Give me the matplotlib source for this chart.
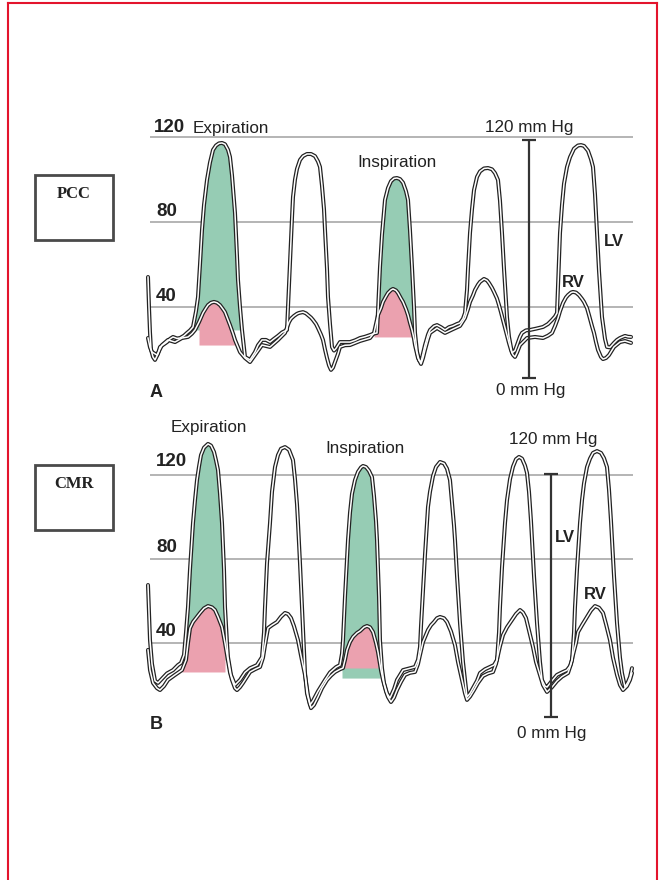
import numpy as np
import matplotlib
matplotlib.use("Agg")
import matplotlib.pyplot as plt
from matplotlib.lines import Line2D
from matplotlib.patches import Rectangle

# pressure traces (time in arbitrary units, pressure in mm Hg)
# --- panel A : PCC ---
a_lv = [(148, 54.1), (149, 40), (150, 28), (151, 20), (153, 16.5), (155, 15.1), (158, 18), (160, 21.2),
        (164, 22.5), (167, 23.5), (170, 25), (173, 25.9), (177, 25.2), (180, 25.4), (184, 26.5), (187, 27.8),
        (190, 29), (193, 30.6), (196, 38), (198, 44.7), (200, 60), (202, 76.2), (204, 88), (207, 99.8),
        (210, 108), (213, 113.9), (216, 116), (219, 117), (222, 117.2), (225, 116.6), (228, 114), (230, 110.6),
        (232, 102), (233, 96), (235, 84.2), (237, 64), (238, 52.7), (240, 40), (242, 29.2), (245, 16.5),
        (250, 15.1), (255, 18.8), (258, 22), (262, 24.5), (266, 24.5), (270, 23.5), (274, 25), (278, 26.4),
        (282, 28), (287, 29.2), (288, 40), (290, 60.7), (292, 82), (293, 91.8), (295, 100), (297, 105),
        (300, 109.2), (303, 111), (307, 112), (311, 112), (315, 111), (318, 108.5), (320, 105.9), (322, 97),
        (324, 86), (325, 76.2), (327, 58), (328, 44.7), (330, 32), (332, 21.2), (334, 19.5), (336, 20.5),
        (340, 23.5), (345, 23.5), (350, 23.5), (355, 24.3), (360, 25.4), (365, 26), (370, 26.8), (374, 27.5),
        (377, 27.8), (378, 38), (380, 58.8), (382, 74), (385, 90.4), (388, 96), (391, 99.2), (394, 100.5),
        (397, 100.7), (400, 100.2), (403, 98.5), (406, 94.5), (408, 90.4), (410, 76), (412, 58.8), (414, 40),
        (415, 27.8), (417, 19), (419, 15), (421, 14.1), (423, 18), (425, 22.1), (428, 27), (430, 29.2),
        (434, 31), (437, 31.5), (441, 30.5), (445, 29.2), (449, 30.5), (453, 31.1), (457, 32), (460, 32.5),
        (463, 34.5), (465, 37.2), (467, 48), (468, 58), (470, 74.8), (472, 86), (474, 95), (477, 101.2),
        (480, 103.8), (484, 105.2), (488, 105.4), (492, 104.8), (495, 103), (498, 99.8), (500, 90), (502, 74.8),
        (504, 58), (506, 43), (507, 35.3), (509, 26), (512, 18.4), (515, 19.5), (517, 22.1), (520, 26),
        (522, 27.8), (526, 29), (530, 29.2), (536, 29.8), (543, 30.6), (548, 32), (552, 33.9), (555, 35.5),
        (557, 37.2), (558, 50), (560, 74.8), (562, 88), (564, 98), (567, 105.9), (570, 110.5), (574, 114.5),
        (578, 116), (581, 116.2), (584, 115.8), (588, 113.5), (591, 109.5), (593, 105.9), (595, 93), (597, 74.8),
        (599, 57), (601, 42), (602, 35.3), (605, 25), (607, 21.2), (610, 21), (614, 23.1), (617, 24.5),
        (620, 25.4), (625, 26.4), (628, 26), (631, 25.9)]
a_rv = [(148, 25.4), (150, 21), (152, 18.8), (157, 17.4), (162, 22.1), (168, 24.5), (175, 23.5), (182, 25.4),
        (188, 25.9), (192, 27.5), (195, 29.2), (199, 32.9), (203, 37.2), (206, 39.5), (208, 40.9), (211, 42),
        (214, 42.4), (217, 42), (220, 40.9), (223, 39), (225, 37.6), (228, 34), (230, 31.5), (233, 27.5),
        (235, 24.5), (238, 21), (240, 18.8), (245, 16.0), (250, 14.1), (255, 17.4), (262, 22.1), (270, 21.2),
        (278, 24.5), (285, 27.8), (289, 32.9), (291, 34.5), (294, 35.8), (297, 36.8), (299, 37.2), (303, 37.6),
        (306, 37), (308, 36.2), (311, 35), (313, 33.9), (316, 32), (318, 30.1), (321, 27), (323, 24.5),
        (325, 20), (327, 16.0), (329, 12.5), (331, 10.4), (333, 11.5), (335, 14.1), (338, 18), (340, 21.2),
        (345, 22), (350, 22.1), (360, 24.0), (370, 25.4), (374, 27.8), (376, 32), (378, 36.2), (381, 39.5),
        (383, 42.4), (386, 45), (388, 46.6), (391, 48), (393, 48.5), (396, 47.8), (398, 46.6), (401, 44),
        (403, 42.4), (406, 39), (408, 36.2), (410, 32.5), (412, 29.2), (414, 25), (415, 22.1), (418, 16.0),
        (421, 13.2), (423, 16), (425, 19.8), (428, 25), (430, 27.8), (437, 30.1), (445, 27.8), (453, 29.6),
        (460, 31.1), (465, 34.8), (468, 39), (470, 42.4), (473, 45.5), (475, 48.0), (478, 50.5), (480, 51.8),
        (484, 53.2), (487, 52.5), (489, 51.3), (492, 49), (494, 47.1), (497, 44), (499, 40.9), (501, 37.5),
        (503, 33.9), (505, 30.5), (507, 26.8), (509, 23), (511, 19.8), (513, 17.5), (515, 16.5), (517, 18.5),
        (520, 22.1), (524, 24), (527, 25.4), (535, 25.9), (543, 25.4), (548, 26.5), (552, 27.8), (555, 31),
        (558, 34.8), (560, 38), (563, 41.9), (566, 44.5), (568, 45.6), (571, 46.8), (573, 47.1), (576, 46.8),
        (579, 45.6), (582, 43.8), (584, 42.4), (587, 39.5), (589, 36.2), (592, 31), (594, 27.8), (596, 23.5),
        (598, 19.8), (601, 16.5), (603, 15.5), (606, 16), (609, 17.4), (614, 21.2), (620, 23.5), (625, 24.0),
        (631, 23.1)]

# --- panel B : CMR ---
b_lv = [(148, 67.6), (149, 55), (150, 41.4), (152, 30), (155, 22), (158, 21.0), (162, 23), (167, 25.5),
        (173, 27.1), (178, 29.5), (181, 30.5), (184, 34.3), (186, 45), (188, 57.1), (190, 75), (193, 97.1),
        (195, 108), (197, 117.6), (199, 124), (201, 129.5), (204, 133), (208, 134.8), (211, 134), (214, 131),
        (216, 127), (218, 122.4), (220, 111), (222, 97.1), (224, 75), (225, 57.1), (227, 40), (228, 33.3),
        (231, 24.8), (235, 20.0), (240, 22.4), (245, 26), (250, 28), (257, 29.5), (262, 33.3), (264, 45),
        (265, 57.1), (267, 78), (270, 97.1), (272, 112), (275, 123.8), (278, 129.5), (281, 132.5), (285, 133.3),
        (289, 132), (293, 127.1), (295, 118), (297, 106), (298, 97.1), (300, 78), (302, 57.1), (304, 36),
        (305, 25.7), (307, 16), (310, 10.5), (313, 12.5), (318, 17), (325, 22.4), (330, 26), (336, 28.5),
        (340, 29.5), (342, 35), (343, 41.4), (345, 62), (348, 89.0), (350, 102), (352, 111), (355, 117.6),
        (358, 121.5), (361, 123.6), (363, 124.3), (366, 123.8), (369, 122), (372, 119.0), (374, 110), (376, 98),
        (377, 89.0), (379, 62), (380, 41.4), (382, 28), (384, 21.0), (387, 16), (390, 13.8), (394, 18),
        (397, 22.4), (403, 27.1), (410, 28), (415, 28.6), (418, 32), (420, 38.1), (421, 48), (423, 65.2),
        (425, 82), (428, 104.8), (430, 112), (433, 119.5), (436, 123.8), (440, 126.2), (444, 125.5), (447, 123),
        (450, 117.6), (452, 107), (454, 96), (455, 89.0), (457, 72), (460, 49.5), (463, 31), (465, 22.4),
        (467, 14.3), (470, 16), (473, 18.6), (477, 22), (480, 25.7), (485, 27.5), (490, 28.6), (494, 29.5),
        (497, 31.9), (499, 45), (500, 57.1), (502, 76), (505, 97.1), (507, 108), (510, 118), (513, 124),
        (516, 127.5), (519, 128.6), (522, 127.8), (525, 124.5), (527, 121.0), (529, 112), (531, 98), (532, 89.0),
        (534, 72), (537, 49.5), (540, 31), (542, 22.4), (545, 19.5), (547, 19.0), (552, 22), (557, 24.8),
        (562, 26), (567, 27.1), (570, 29), (572, 31.9), (574, 45), (575, 57.1), (577, 75), (580, 97.1),
        (582, 108), (584, 116), (587, 123.8), (590, 127.8), (593, 130.5), (597, 131.4), (601, 130.5), (604, 128),
        (607, 123.8), (609, 113), (611, 98), (612, 89.0), (614, 72), (617, 49.5), (620, 33), (622, 25.7),
        (625, 19.0), (628, 21.5), (630, 23.8), (632, 28)]
b_rv = [(148, 36.7), (150, 27.1), (153, 21), (157, 18.5), (160, 17.6), (164, 19.5), (168, 22.4), (175, 24.8),
        (182, 27.1), (186, 31.9), (188, 40), (190, 47), (193, 50.0), (197, 52.5), (200, 54.3), (204, 56.5),
        (208, 57.6), (212, 57), (215, 55.7), (218, 52.5), (222, 47.6), (225, 40), (227, 34.3), (230, 26),
        (232, 22.4), (235, 18.5), (237, 17.6), (240, 19), (243, 21.0), (247, 24), (250, 26.2), (255, 27.5),
        (260, 28.6), (263, 33), (265, 39.0), (268, 47.1), (272, 48.5), (277, 50.0), (281, 52.5), (285, 54.3),
        (288, 53.8), (291, 51.9), (294, 48), (298, 41.4), (301, 34), (305, 24.8), (308, 15), (311, 9.0),
        (314, 10.5), (318, 14.3), (322, 18.5), (327, 22.4), (331, 24.5), (335, 26.2), (340, 27.5), (343, 28.1),
        (345, 32), (347, 36.7), (350, 40.5), (353, 42.9), (357, 44.8), (360, 45.7), (364, 47.5), (367, 48.1),
        (370, 47.5), (373, 45.2), (376, 40), (378, 35.7), (381, 27), (383, 22.4), (386, 17), (388, 14.3),
        (391, 11.9), (394, 14), (397, 17.6), (401, 21.5), (405, 24.8), (410, 25.8), (415, 26.2), (418, 30),
        (420, 34.3), (423, 40.5), (426, 44), (428, 46.2), (431, 48.5), (434, 50.0), (437, 51.8), (440, 52.4),
        (444, 51.8), (447, 50.0), (451, 45.5), (455, 39.0), (458, 31), (462, 22.4), (465, 16), (467, 12.9),
        (470, 14.5), (474, 17.6), (478, 21), (483, 24.3), (488, 25.5), (493, 26.2), (496, 30), (498, 34.3),
        (500, 38.5), (503, 43.8), (507, 47.5), (512, 51.0), (516, 53.8), (520, 55.7), (523, 54.5), (526, 51.9),
        (529, 46), (533, 38.1), (536, 31), (540, 24.8), (543, 20), (547, 16.7), (552, 19), (557, 21.9),
        (562, 24), (568, 25.7), (571, 30), (573, 34.3), (576, 40), (578, 45.2), (582, 48.5), (587, 52.4),
        (591, 55.5), (595, 57.6), (599, 56.8), (603, 54.3), (606, 49), (610, 41.4), (613, 33), (617, 24.8),
        (620, 20), (623, 17.6), (627, 19.5), (630, 22.4), (632, 25.7)]

# shaded beats: (t_start, t_end, base pressure)
a_green = [(193, 242, 29.2), (376, 416, 27.8)]
a_pink = [(197, 236, 22.1), (374, 413, 25.9)]
b_green = [(184, 228, 31.9), (342, 381, 23.3)]
b_pink = [(182, 225, 26.2), (340, 378, 28.1)]

grid_levels = [40, 80, 120]

GREEN = "#96ccb4"
PINK = "#eba1af"
INK = "#222222"
GRID = "#b4b4b4"

W, H = 659, 880
fig = plt.figure(figsize=(W / 100, H / 100), dpi=100)


def px_box(y_top, y_bot):
    return [0, 1 - y_bot / H, 1, (y_bot - y_top) / H]


def trace(ax, pts):
    t, p = zip(*pts)
    ax.plot(t, p, color=INK, lw=2.9, solid_joinstyle="round", solid_capstyle="round", zorder=3)
    ax.plot(t, p, color="white", lw=1.1, solid_joinstyle="round", zorder=4)


def shade(ax, pts, spans, color, z):
    t, p = map(np.array, zip(*pts))
    for t0, t1, base in spans:
        m = (t >= t0) & (t <= t1)
        ax.fill_between(t[m], p[m], base, where=p[m] >= base, interpolate=True,
                        color=color, lw=0, zorder=z)


def panel(ax, lv, rv, green, pink):
    ax.set_xlim(0, W)
    ax.axis("off")
    ax.hlines(grid_levels, 150, 633, color=GRID, lw=1.4, zorder=1)
    shade(ax, lv, green, GREEN, 2)
    shade(ax, rv, pink, PINK, 2.5)
    trace(ax, lv)
    trace(ax, rv)


bold = dict(family="Liberation Sans", weight="bold", color=INK)
norm = dict(family="Liberation Sans", color=INK)
NUM, LAB, TAG = 13.5, 12.3, 12

# panel A: 120 mmHg at px 137, 40 mmHg at px 307
axA = fig.add_axes(px_box(100, 400))
axA.set_ylim((392 - 400) / 2.125, (392 - 100) / 2.125)
panel(axA, a_lv, a_rv, a_green, a_pink)
axA.text(154, 120.5, "120", fontsize=NUM, ha="left", va="bottom", **bold)
axA.text(193, 120.5, "Expiration", fontsize=LAB, ha="left", va="bottom", **norm)
axA.text(156, 81, "80", fontsize=NUM, ha="left", va="bottom", **bold)
axA.text(156, 41, "40", fontsize=NUM, ha="left", va="bottom", **bold)
axA.text(397, 107.8, "Inspiration", fontsize=LAB, ha="center", va="center", **norm)
axA.text(529, 124.7, "120 mm Hg", fontsize=LAB, ha="center", va="center", **norm)
axA.text(531, 0.9, "0 mm Hg", fontsize=LAB, ha="center", va="center", **norm)
axA.text(614, 70.6, "LV", fontsize=TAG, ha="center", va="center", **bold)
axA.text(573, 51.3, "RV", fontsize=TAG, ha="center", va="center", **bold)
axA.text(156, 0, "A", fontsize=13, ha="center", va="center", **bold)
axA.vlines(529, 6.6, 118.6, color="#333333", lw=1.6, zorder=5)
axA.hlines([6.6, 118.6], 522, 536, color="#333333", lw=1.6, zorder=5)

# panel B: 120 mmHg at px 475, 40 mmHg at px 643
axB = fig.add_axes(px_box(405, 760))
axB.set_ylim((727 - 760) / 2.1, (727 - 405) / 2.1)
panel(axB, b_lv, b_rv, b_green, b_pink)
axB.text(209, 142.4, "Expiration", fontsize=LAB, ha="center", va="center", **norm)
axB.text(156, 122.5, "120", fontsize=NUM, ha="left", va="bottom", **bold)
axB.text(156, 81.5, "80", fontsize=NUM, ha="left", va="bottom", **bold)
axB.text(156, 41.5, "40", fontsize=NUM, ha="left", va="bottom", **bold)
axB.text(365, 132.4, "Inspiration", fontsize=LAB, ha="center", va="center", **norm)
axB.text(553, 136.7, "120 mm Hg", fontsize=LAB, ha="center", va="center", **norm)
axB.text(552, -2.9, "0 mm Hg", fontsize=LAB, ha="center", va="center", **norm)
axB.text(565, 90.0, "LV", fontsize=TAG, ha="center", va="center", **bold)
axB.text(595, 63.3, "RV", fontsize=TAG, ha="center", va="center", **bold)
axB.text(156, 1.0, "B", fontsize=13, ha="center", va="center", **bold)
axB.vlines(551, 4.8, 120.5, color="#333333", lw=1.6, zorder=5)
axB.hlines([4.8, 120.5], 544, 558, color="#333333", lw=1.6, zorder=5)

# method boxes on the left
for name, top in [("PCC", 175), ("CMR", 465)]:
    fig.add_artist(Rectangle((35 / W, 1 - (top + 65) / H), 78 / W, 65 / H, transform=fig.transFigure,
                             fill=False, edgecolor="#4a4a4a", lw=2))
    fig.text(74 / W, 1 - (top + 19) / H, name, fontsize=12, ha="center", va="center",
             family="Liberation Serif", weight="bold", color=INK)

# red frame (left, top, right)
red = "#e3142c"
fig.add_artist(Line2D([8 / W, 8 / W], [0, 1 - 3 / H], transform=fig.transFigure, color=red, lw=1.5))
fig.add_artist(Line2D([8 / W, 657 / W], [1 - 3 / H, 1 - 3 / H], transform=fig.transFigure, color=red, lw=1.5))
fig.add_artist(Line2D([657 / W, 657 / W], [0, 1 - 3 / H], transform=fig.transFigure, color=red, lw=1.5))

fig.savefig("out.png", dpi=100)
